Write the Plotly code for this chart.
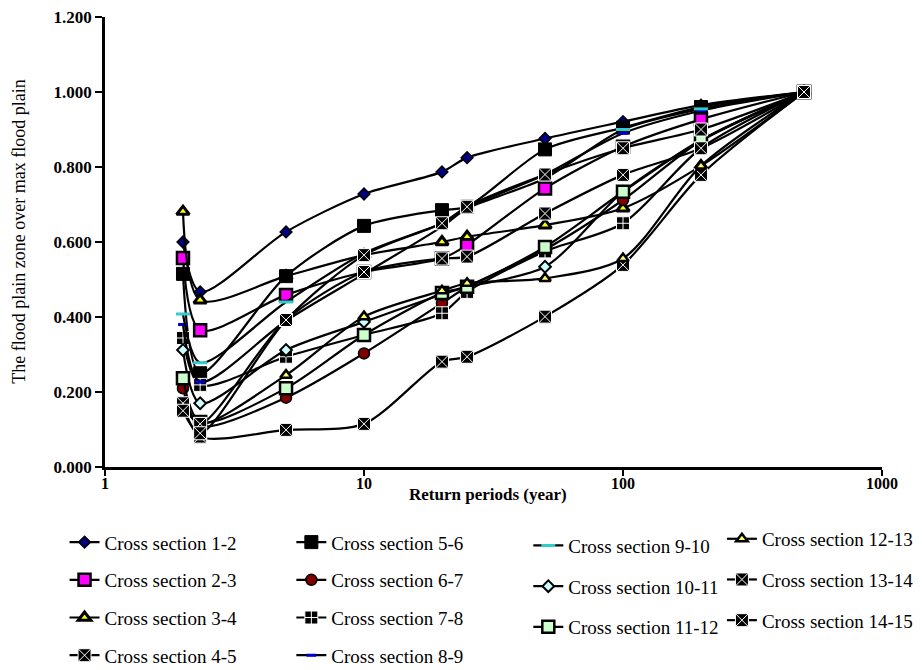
import plotly.graph_objects as go

periods = [2, 2.33, 5, 10, 20, 25, 50, 100, 200, 500]

names = ["Cross section 1-2", "Cross section 2-3", "Cross section 3-4", "Cross section 4-5",
         "Cross section 5-6", "Cross section 6-7", "Cross section 7-8", "Cross section 8-9",
         "Cross section 9-10", "Cross section 10-11", "Cross section 11-12",
         "Cross section 12-13", "Cross section 13-14", "Cross section 14-15"]

cs_1_2 = [0.600, 0.467, 0.627, 0.728, 0.787, 0.825, 0.876, 0.921, 0.965, 1.000]
cs_2_3 = [0.557, 0.365, 0.459, 0.520, 0.556, 0.592, 0.743, 0.854, 0.927, 1.000]
cs_3_4 = [0.681, 0.445, 0.509, 0.565, 0.600, 0.614, 0.645, 0.690, 0.803, 1.000]
cs_4_5 = [0.170, 0.081, 0.099, 0.115, 0.281, 0.294, 0.401, 0.539, 0.779, 1.000]
cs_5_6 = [0.515, 0.250, 0.509, 0.643, 0.685, 0.694, 0.847, 0.905, 0.960, 1.000]
cs_6_7 = [0.210, 0.110, 0.185, 0.303, 0.437, 0.480, 0.580, 0.712, 0.870, 1.000]
cs_7_8 = [0.344, 0.219, 0.294, 0.352, 0.410, 0.467, 0.575, 0.650, 0.850, 1.000]
cs_8_9 = [0.380, 0.227, 0.390, 0.515, 0.641, 0.690, 0.780, 0.890, 0.950, 1.000]
cs_9_10 = [0.408, 0.278, 0.440, 0.570, 0.650, 0.690, 0.770, 0.900, 0.955, 1.000]
cs_10_11 = [0.312, 0.170, 0.312, 0.387, 0.460, 0.480, 0.534, 0.734, 0.870, 1.000]
cs_11_12 = [0.237, 0.120, 0.210, 0.352, 0.464, 0.481, 0.587, 0.734, 0.872, 1.000]
cs_12_13 = [0.170, 0.115, 0.245, 0.401, 0.470, 0.490, 0.503, 0.556, 0.803, 1.000]
cs_13_14 = [0.170, 0.115, 0.392, 0.520, 0.556, 0.561, 0.676, 0.779, 0.850, 1.000]
cs_14_15 = [0.150, 0.090, 0.392, 0.565, 0.650, 0.694, 0.780, 0.850, 0.900, 1.000]

series = [cs_1_2, cs_2_3, cs_3_4, cs_4_5, cs_5_6, cs_6_7, cs_7_8, cs_8_9,
          cs_9_10, cs_10_11, cs_11_12, cs_12_13, cs_13_14, cs_14_15]

y_ticks = [0, 0.2, 0.4, 0.6, 0.8, 1.0, 1.2]
x_ticks = [1, 10, 100, 1000]
x_title = "Return periods (year)"
y_title = "The flood plain zone over max flood plain"

# marker styles: (symbol, fill, line colour, line width, size)
styles = [
    ("diamond", "#000080", "black", 1.5, 9),
    ("square", "#FF00FF", "black", 2.5, 12),
    ("triangle-up", "#FFFF00", "black", 3, 11),
    ("square-x", "black", "white", 1, 13),
    ("square", "black", "black", 1, 13),
    ("circle", "#800000", "black", 1.5, 11),
    ("square-cross", "black", "white", 1, 13),
    ("line-ew", "#0000CC", "#0000CC", 3, 7),
    ("line-ew", "#33CCCC", "#33CCCC", 3, 10),
    ("diamond", "#CCFFFF", "black", 2, 9),
    ("square", "#CCFFCC", "black", 2.5, 12),
    ("triangle-up", "#FFFF66", "black", 2.5, 10),
    ("square-x", "black", "white", 1, 13),
    ("square-x", "black", "white", 1, 13),
]

legend_of = ["legend"] * 4 + ["legend2"] * 4 + ["legend3"] * 3 + ["legend4"] * 3

fig = go.Figure()
for i, (nm, vals) in enumerate(zip(names, series)):
    sym, fill, lc, lw, sz = styles[i]
    fig.add_trace(go.Scatter(
        x=periods, y=vals, name=nm, mode="lines+markers",
        line=dict(color="black", width=2.2, shape="spline", smoothing=0.8),
        marker=dict(symbol=sym, color=fill, size=sz, line=dict(color=lc, width=lw)),
        legend=legend_of[i], legendgroup=nm,
    ))

font = "Liberation Serif"


def leg(x, y, gap):
    return dict(x=x, y=y, font=dict(family=font, size=19, color="black"),
                bgcolor="rgba(0,0,0,0)", tracegroupgap=gap, itemwidth=30,
                xanchor="left", yanchor="top", xref="container", yref="container")


fig.update_layout(
    width=922, height=670,
    margin=dict(l=105, r=40, t=17, b=203, autoexpand=False),
    paper_bgcolor="white", plot_bgcolor="white",
    font=dict(family=font, size=18, color="black"),
    xaxis=dict(type="log", range=[0, 3], tickvals=x_ticks,
               ticktext=["<b>%d</b>" % v for v in x_ticks],
               showline=True, linecolor="black", linewidth=2.5, ticks="outside",
               ticklen=6, tickwidth=2, tickcolor="black", showgrid=False, zeroline=False,
               automargin=False, ticklabelstandoff=-6,
               tickfont=dict(family=font, size=16, color="black")),
    yaxis=dict(range=[0, 1.2], tickvals=y_ticks,
               ticktext=["<b>%.3f</b>" % v for v in y_ticks],
               showline=True, linecolor="black", linewidth=2.5, ticks="outside",
               ticklen=7, tickwidth=2, tickcolor="black", showgrid=False, zeroline=False,
               automargin=False,
               tickfont=dict(family=font, size=17, color="black")),
    annotations=[
        dict(text="<b>" + x_title + "</b>", xref="paper", yref="paper", x=0.493, y=-0.062,
             xanchor="center", yanchor="middle", showarrow=False,
             font=dict(family=font, size=17, color="black")),
        dict(text=y_title, xref="paper", yref="paper", x=-0.11, y=0.522, textangle=-90,
             xanchor="center", yanchor="middle", showarrow=False,
             font=dict(family=font, size=18, color="black")),
    ],
    legend=leg(0.070, 0.219, 10),
    legend2=leg(0.316, 0.219, 10),
    legend3=leg(0.573, 0.214, 13),
    legend4=leg(0.783, 0.224, 13),
    showlegend=True,
)

fig.write_html("out.html")
